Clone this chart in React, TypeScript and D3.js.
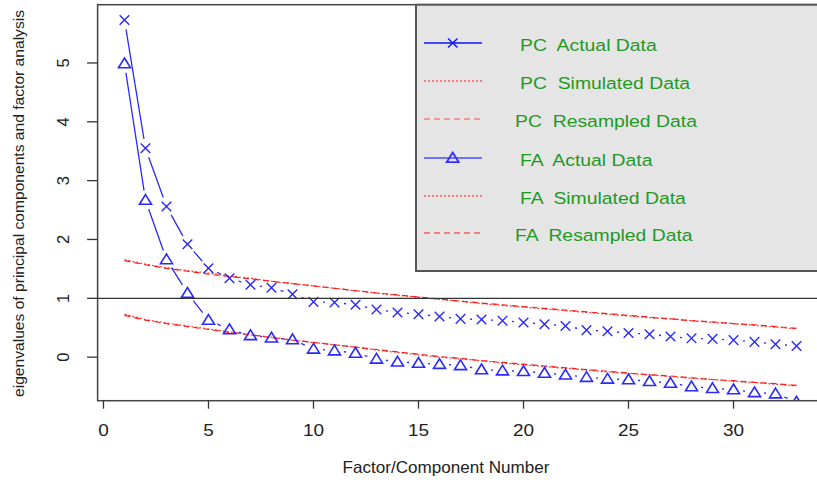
import React from "react";
import * as d3 from "d3";

const components = [1,2,3,4,5,6,7,8,9,10,11,12,13,14,15,16,17,18,19,20,21,22,23,24,25,26,27,28,29,30,31,32,33];
const pcActual = [5.73,3.55,2.56,1.92,1.51,1.34,1.23,1.18,1.07,0.94,0.93,0.89,0.81,0.76,0.73,0.69,0.65,0.64,0.62,0.59,0.56,0.53,0.46,0.44,0.41,0.39,0.35,0.32,0.31,0.29,0.26,0.22,0.19];
const faActual = [4.99,2.67,1.66,1.09,0.63,0.47,0.37,0.33,0.30,0.14,0.11,0.07,-0.03,-0.08,-0.10,-0.12,-0.14,-0.21,-0.23,-0.24,-0.27,-0.30,-0.34,-0.37,-0.38,-0.41,-0.44,-0.50,-0.53,-0.55,-0.60,-0.62,-0.76];
const pcSimulated = [1.66,1.58,1.52,1.47,1.43,1.38,1.34,1.29,1.25,1.21,1.17,1.13,1.09,1.05,1.02,0.98,0.95,0.91,0.88,0.85,0.82,0.79,0.76,0.73,0.70,0.67,0.65,0.62,0.59,0.57,0.54,0.51,0.48];
const pcResampled = [1.64,1.57,1.51,1.46,1.41,1.37,1.33,1.29,1.25,1.21,1.17,1.13,1.09,1.06,1.02,0.99,0.95,0.92,0.89,0.86,0.83,0.80,0.77,0.74,0.71,0.68,0.65,0.62,0.60,0.57,0.55,0.52,0.49];
const faSimulated = [0.73,0.64,0.58,0.53,0.48,0.43,0.38,0.34,0.29,0.25,0.21,0.17,0.12,0.08,0.04,0.00,-0.03,-0.06,-0.10,-0.13,-0.16,-0.19,-0.22,-0.25,-0.28,-0.30,-0.33,-0.36,-0.38,-0.41,-0.43,-0.46,-0.49];
const faResampled = [0.71,0.63,0.57,0.52,0.47,0.42,0.38,0.33,0.29,0.25,0.21,0.17,0.13,0.09,0.05,0.01,-0.02,-0.06,-0.09,-0.12,-0.15,-0.18,-0.21,-0.24,-0.27,-0.30,-0.32,-0.35,-0.38,-0.40,-0.43,-0.45,-0.48];

const xTicks = [0,5,10,15,20,25,30];
const yTicks = [0,1,2,3,4,5];
const legendLabels = ["PC  Actual Data","PC  Simulated Data","PC  Resampled Data","FA  Actual Data","FA  Simulated Data","FA  Resampled Data"];
const xTitle = "Factor/Component Number";
const yTitle = "eigenvalues of principal components and factor analysis";
const refLine = 1;

const W = 817, H = 480;
const FONT = "'Liberation Sans', Arial, sans-serif";

export default function App() {
  const x = d3.scaleLinear().domain([-0.28, 34.28]).range([97.6, 823.4]);
  const y = d3.scaleLinear().domain([-0.74, 5.99]).range([400.7, 4.7]);
  const left = x.range()[0], right = x.range()[1];
  const top = y.range()[1], bottom = y.range()[0];

  const pts = (vals: number[]) => vals.map((v, i) => [x(components[i]), y(v)] as [number, number]);

  const gapped = (p: [number, number][], gap: number) => {
    const segs: string[] = [];
    for (let i = 0; i < p.length - 1; i++) {
      const [x1, y1] = p[i], [x2, y2] = p[i + 1];
      const dx = x2 - x1, dy = y2 - y1;
      const d = Math.hypot(dx, dy);
      if (d > 2 * gap) {
        const ux = dx / d, uy = dy / d;
        segs.push(`M${x1 + ux * gap},${y1 + uy * gap}L${x2 - ux * gap},${y2 - uy * gap}`);
      }
    }
    return segs.join("");
  };

  const line = d3.line<[number, number]>().x(d => d[0]).y(d => d[1]);
  const blue = "#2a2aff";
  const red = "#ff1a1a";

  const xMark = (cx: number, cy: number, k: string) => (
    <path key={k} d={`M${cx - 4.8},${cy - 4.8}L${cx + 4.8},${cy + 4.8}M${cx - 4.8},${cy + 4.8}L${cx + 4.8},${cy - 4.8}`} stroke={blue} strokeWidth={1.4} fill="none" />
  );
  const triMark = (cx: number, cy: number, k: string) => (
    <path key={k} d={`M${cx},${cy - 5.5}L${cx + 6},${cy + 4.2}L${cx - 6},${cy + 4.2}Z`} stroke={blue} strokeWidth={1.6} fill="none" />
  );

  const pcP = pts(pcActual);
  const faP = pts(faActual);

  const legendY = [43, 81, 119, 158, 196, 233];
  const legendStyles = [
    { type: "x", dash: "none", color: "#1010ff" },
    { type: "l", dash: "2,2", color: red },
    { type: "l", dash: "6,4", color: "#ff5050" },
    { type: "t", dash: "none", color: "#4a4aff" },
    { type: "l", dash: "2,2", color: red },
    { type: "l", dash: "6,4", color: red },
  ];

  return (
    <svg width={W} height={H} style={{ position: "absolute", left: 0, top: 0, background: "#fff" }} fontFamily={FONT}>
      <defs>
        <clipPath id="plotClip">
          <rect x={left} y={top} width={right - left} height={bottom - top} />
        </clipPath>
      </defs>

      <g clipPath="url(#plotClip)">
        <path d={line(pts(pcSimulated)) || ""} stroke={red} strokeWidth={1.2} strokeDasharray="2,2" fill="none" opacity={0.85} />
        <path d={line(pts(pcResampled)) || ""} stroke={red} strokeWidth={1.2} strokeDasharray="6,4" fill="none" />
        <path d={line(pts(faSimulated)) || ""} stroke={red} strokeWidth={1.2} strokeDasharray="2,2" fill="none" opacity={0.85} />
        <path d={line(pts(faResampled)) || ""} stroke={red} strokeWidth={1.2} strokeDasharray="6,4" fill="none" />

        <path d={gapped(pcP, 9.5)} stroke={blue} strokeWidth={1.3} fill="none" />
        <path d={gapped(faP, 9.5)} stroke={blue} strokeWidth={1.3} fill="none" />
        {pcP.map((p, i) => xMark(p[0], p[1], "pc" + i))}
        {faP.map((p, i) => triMark(p[0], p[1], "fa" + i))}
      </g>

      <line x1={left} x2={right} y1={y(refLine)} y2={y(refLine)} stroke="#333" strokeWidth={1.3} />

      <rect x={left} y={top} width={right - left} height={bottom - top} fill="none" stroke="#444" strokeWidth={1.5} />

      {xTicks.map(t => (
        <g key={"xt" + t}>
          <line x1={x(t)} x2={x(t)} y1={bottom} y2={bottom + 8} stroke="#333" strokeWidth={1.3} />
          <text transform={`translate(${x(t)},435.5) scale(1.15,1)`} textAnchor="middle" fontSize={16.5} fill="#222">{t}</text>
        </g>
      ))}
      <text x={446} y={473} textAnchor="middle" fontSize={16.5} fill="#222" textLength={207} lengthAdjust="spacingAndGlyphs">{xTitle}</text>

      {yTicks.map(t => (
        <g key={"yt" + t}>
          <line x1={left - 10.5} x2={left} y1={y(t)} y2={y(t)} stroke="#333" strokeWidth={1.3} />
          <text transform={`translate(69,${y(t)}) rotate(-90)`} textAnchor="middle" fontSize={16.5} fill="#222">{t}</text>
        </g>
      ))}
      <text transform={`translate(23.5,203.5) rotate(-90)`} textAnchor="middle" fontSize={15} fill="#222" textLength={387} lengthAdjust="spacingAndGlyphs">{yTitle}</text>

      <rect x={416} y={top} width={430} height={271 - top} fill="#e5e5e5" stroke="#555" strokeWidth={2} />
      {legendLabels.map((lab, i) => {
        const ly = legendY[i];
        const st = legendStyles[i];
        const tx = lab.includes("Resampled") ? 515 : 520;
        return (
          <g key={"lg" + i}>
            <line x1={424} x2={482} y1={ly} y2={ly} stroke={st.color} strokeWidth={st.type === "l" ? 1.2 : 1.3} strokeDasharray={st.dash} />
            {st.type === "x" && <path d={`M${448},${ly - 4.5}L${457.5},${ly + 4.5}M${448},${ly + 4.5}L${457.5},${ly - 4.5}`} stroke="#1010ff" strokeWidth={1.4} fill="none" />}
            {st.type === "t" && <path d={`M${452.7},${ly - 5.5}L${458.7},${ly + 4.2}L${446.7},${ly + 4.2}Z`} stroke="#3030ff" strokeWidth={1.8} fill="none" />}
            <text transform={`translate(${tx},${ly + 7.5}) scale(1.14,1)`} fontSize={17} fill="#1f9a1f" style={{ whiteSpace: "pre" }}>{lab}</text>
          </g>
        );
      })}
    </svg>
  );
}
